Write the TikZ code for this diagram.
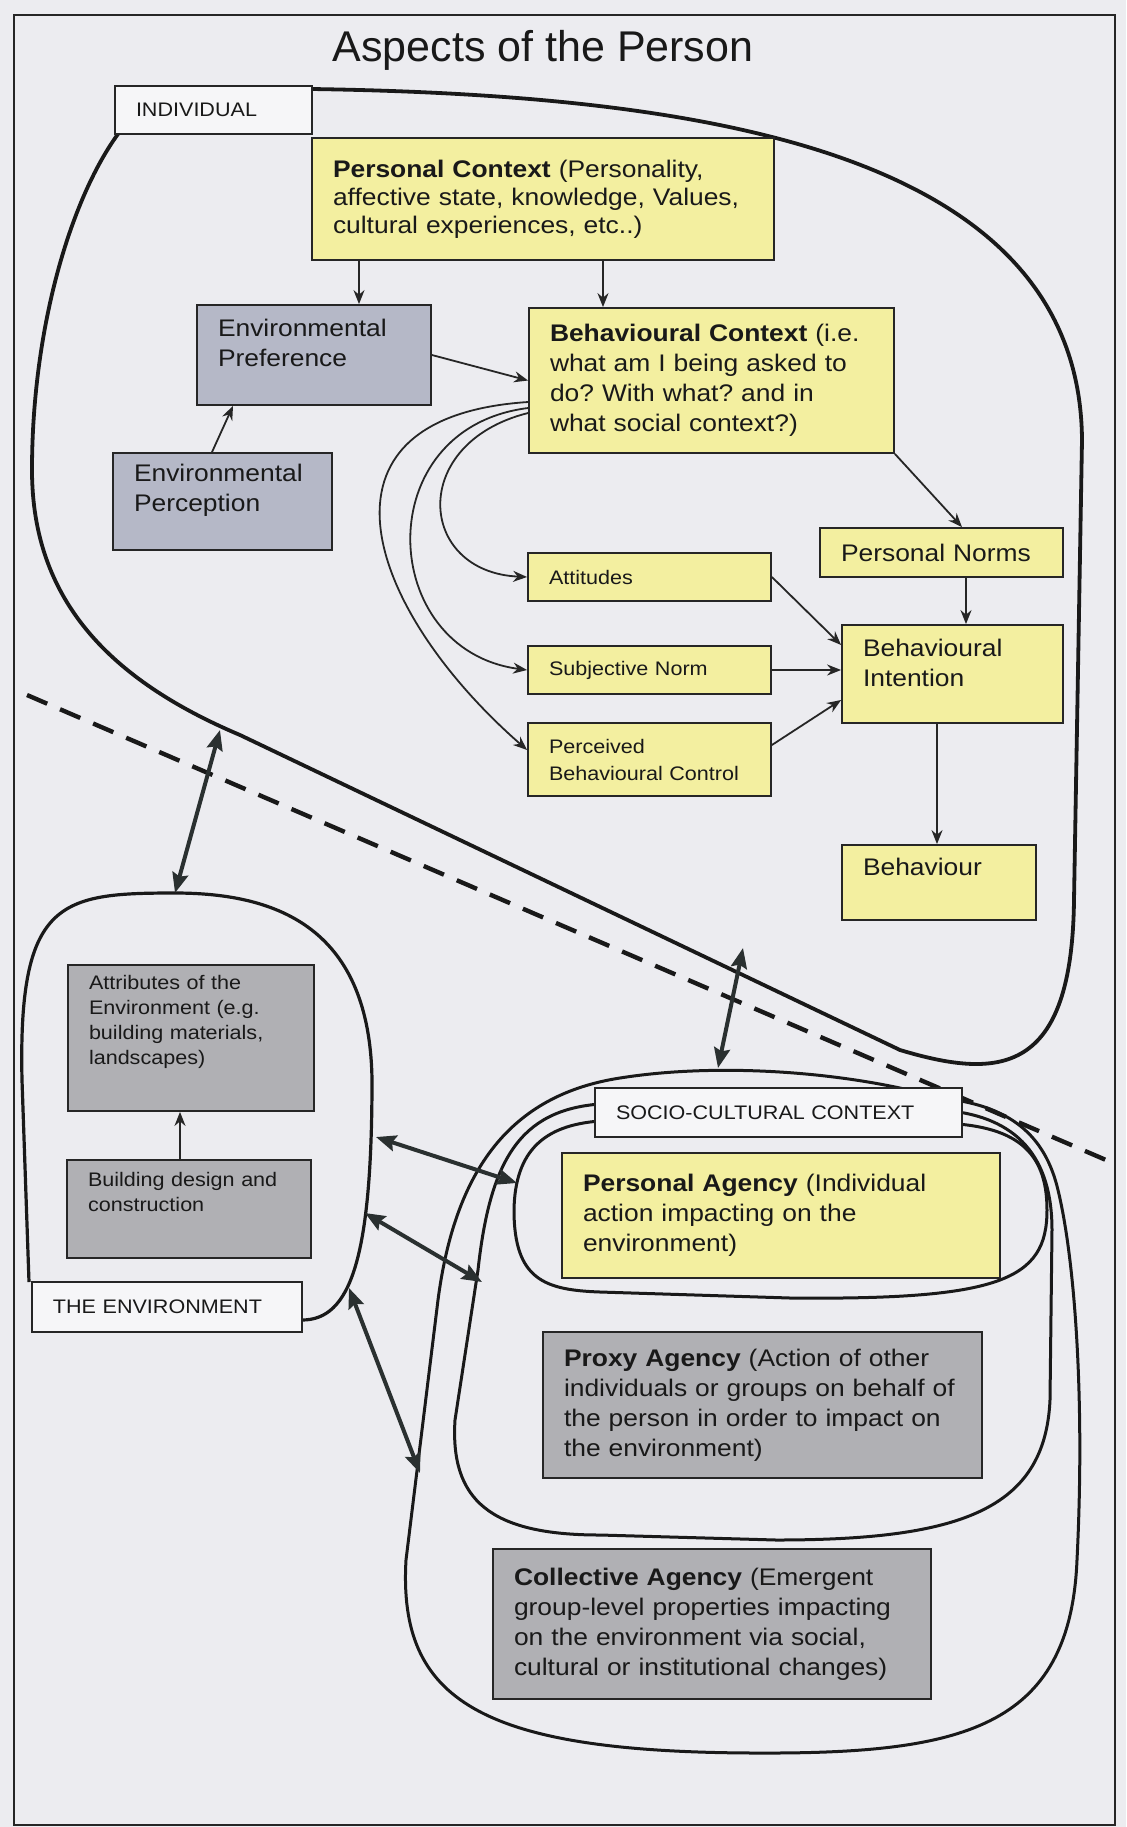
\documentclass[tikz,border=0pt]{standalone}
\usepackage{fontspec}
\setmainfont{Liberation Sans}[FakeStretch=1.1]
\newfontfamily\titlefont{Liberation Sans}
\usetikzlibrary{arrows.meta}
\definecolor{pagegrey}{RGB}{236,236,240}
\definecolor{noteyellow}{RGB}{243,239,160}
\definecolor{envblue}{RGB}{181,184,199}
\definecolor{envgrey}{RGB}{176,176,180}
\definecolor{tagwhite}{RGB}{246,246,248}
\definecolor{inkgrey}{RGB}{42,48,48}
\newcommand\boxbig{\fontsize{12}{15}\selectfont}
\newcommand\boxsmall{\fontsize{9.8}{12.5}\selectfont}
\newcommand\padb[1]{\rule[-#1]{0pt}{#1}}
\frenchspacing

\begin{document}
\begin{tikzpicture}[x=0.5pt, y=-0.5pt,
  cbox/.style={
    rectangle, draw=black!85, line width=0.9pt,
    inner xsep=10.5pt, inner ysep=3pt, align=left, text=black!90
  },
  yellowbox/.style={cbox, fill=noteyellow, font=\boxbig},
  bluebox/.style={cbox, fill=envblue, font=\boxbig},
  greybox/.style={cbox, fill=envgrey, font=\boxsmall},
  tagbox/.style={cbox, fill=tagwhite, font=\boxsmall},
  smallbox/.style={yellowbox, font=\boxsmall, text width=100.5pt},
  arr/.style={-{Stealth[length=7pt,width=5.5pt]}, line width=0.9pt, draw=black!85},
  dbl/.style={{Stealth[length=10pt,width=8pt,inset=1.5pt]}-{Stealth[length=10pt,width=8pt,inset=1.5pt]},
    line width=2pt, draw=inkgrey},
  blob/.style={line width=1.9pt, draw=black!90},
  ring/.style={line width=1.5pt, draw=black!90}
]
  \useasboundingbox (0,0) rectangle (1126,1827);
  \fill[pagegrey] (0,0) rectangle (1126,1827);
  \draw[line width=1pt, black!85] (14,15) rectangle (1115,1825);

  % outlines
  \draw[blob] (312,89) .. controls (700,95) and (1080,150) .. (1082,440)
    -- (1074,900) .. controls (1072,1075) and (1000,1080) .. (900,1050)
    -- (240,735) .. controls (110,680) and (32,600) .. (32,470)
    .. controls (32,330) and (70,200) .. (118,134);
  \draw[blob, line width=1.6pt] (29,1282) -- (22,1080)
    .. controls (18,900) and (60,893) .. (175,893)
    .. controls (280,893) and (370,930) .. (372,1080)
    .. controls (372,1260) and (350,1320) .. (302,1320);
  \draw[ring] (940,1098) .. controls (850,1072) and (720,1062) .. (620,1078)
    .. controls (510,1095) and (455,1170) .. (438,1300) -- (406,1560)
    .. controls (398,1700) and (480,1752) .. (754,1753)
    .. controls (960,1754) and (1070,1730) .. (1077,1560)
    .. controls (1085,1400) and (1075,1260) .. (1058,1190)
    .. controls (1045,1135) and (1010,1105) .. (940,1098) -- cycle;
  \draw[ring] (940,1110) -- (600,1104) .. controls (520,1110) and (490,1160) .. (478,1270)
    -- (455,1420) .. controls (450,1500) and (490,1535) .. (600,1535)
    -- (776,1540) .. controls (960,1540) and (1045,1510) .. (1050,1400)
    -- (1052,1230) .. controls (1052,1160) and (1020,1115) .. (940,1110) -- cycle;
  \draw[ring] (940,1123) -- (600,1121) .. controls (545,1125) and (515,1150) .. (514,1210)
    .. controls (514,1280) and (545,1290) .. (600,1292)
    -- (790,1298) .. controls (1000,1300) and (1047,1280) .. (1047,1210)
    .. controls (1047,1150) and (1015,1125) .. (940,1123) -- cycle;
  \draw[line width=2.2pt, black!90, dash pattern=on 11pt off 7pt] (27,695) -- (1106,1160);

  % boxes
  \node[font=\titlefont\fontsize{21.5}{24}\selectfont, text=black!90] (title) at (543,50) {Aspects of the Person};
  \node[tagbox, text width=77.5pt, minimum height=24pt] (individual) at (213.5,110) {INDIVIDUAL};
  \node[yellowbox, text width=210pt, minimum height=61pt, font=\fontsize{12}{14}\selectfont] (perscontext) at (543,199)
    {\textbf{Personal Context} (Personality,\\affective state, knowledge, Values,\\cultural experiences, etc..)};
  \node[bluebox, text width=96pt, minimum height=50pt] (envpref) at (314,355) {Environmental\\Preference\padb{12pt}};
  \node[yellowbox, text width=161.5pt, minimum height=72.5pt] (behcontext) at (711.5,380.5)
    {\textbf{Behavioural Context} (i.e.\\what am I being asked to\\do? With what? and in\\what social context?)};
  \node[bluebox, text width=88.5pt, minimum height=48.5pt] (envperc) at (222.5,501.5) {Environmental\\Perception\padb{13.5pt}};
  \node[smallbox, minimum height=24pt] (attitudes) at (649.5,577) {Attitudes};
  \node[smallbox, minimum height=24pt] (subjnorm) at (649.5,670) {Subjective Norm};
  \node[smallbox, minimum height=36.5pt, font=\fontsize{9.8}{13.5}\selectfont] (pbc) at (649.5,759.5) {Perceived\\Behavioural Control};
  \node[yellowbox, text width=100.5pt, minimum height=24.5pt] (persnorms) at (941.5,552.5) {Personal Norms};
  \node[yellowbox, text width=89.5pt, minimum height=49pt] (intention) at (952.5,674) {Behavioural\\Intention\padb{11pt}};
  \node[yellowbox, text width=76pt, minimum height=37.5pt] (behaviour) at (939,882.5) {Behaviour\padb{16pt}};
  \node[greybox, text width=102pt, minimum height=73pt] (attributes) at (191,1038)
    {Attributes of the\\Environment (e.g.\\building materials,\\landscapes)\padb{18.5pt}};
  \node[greybox, text width=101pt, minimum height=49pt] (building) at (189,1209) {Building design and\\construction\padb{17pt}};
  \node[tagbox, text width=114pt, minimum height=25pt] (theenv) at (167,1307) {THE ENVIRONMENT};
  \node[tagbox, text width=162.5pt, minimum height=24.5pt] (socio) at (778.5,1112.5) {SOCIO-CULTURAL CONTEXT};
  \node[yellowbox, text width=198pt, minimum height=62.5pt] (persagency) at (781,1215.5)
    {\textbf{Personal Agency} (Individual\\action impacting on the\\environment)};
  \node[greybox, font=\boxbig, text width=198.5pt, minimum height=73pt] (proxy) at (762.5,1405)
    {\textbf{Proxy Agency} (Action of other\\individuals or groups on behalf of\\the person in order to impact on\\the environment)};
  \node[greybox, font=\boxbig, text width=198pt, minimum height=75pt] (collective) at (712,1624)
    {\textbf{Collective Agency} (Emergent\\group-level properties impacting\\on the environment via social,\\cultural or institutional changes)};

  % arrows inside the individual
  \draw[arr] ([xshift=22.5pt]envpref.north |- perscontext.south) -- ([xshift=22.5pt]envpref.north);
  \draw[arr] ([xshift=-54.25pt]behcontext.north |- perscontext.south) -- ([xshift=-54.25pt]behcontext.north);
  \draw[arr] ([xshift=-5.25pt]envperc.north) -- ([xshift=-40.5pt]envpref.south);
  \draw[arr] (envpref.east) -- (behcontext.west);
  \draw[arr] (behcontext.south east) -- ([xshift=10.25pt]persnorms.north);
  \draw[arr] ([xshift=12.25pt]persnorms.south) -- ([xshift=12.25pt]persnorms.south |- intention.north);
  \draw[arr] (attitudes.east) -- ([yshift=14.5pt]intention.west);
  \draw[arr] (subjnorm.east) -- (subjnorm.east -| intention.west);
  \draw[arr] ([yshift=7.25pt]pbc.east) -- ([yshift=-13pt]intention.west);
  \draw[arr] ([xshift=-7.75pt]intention.south) -- ([xshift=-7.75pt]intention.south |- behaviour.north);
  \draw[arr] ([yshift=-16.25pt]behcontext.west) .. controls +(-120,30) and +(-110,-5) .. (attitudes.west);
  \draw[arr] ([yshift=-13.75pt]behcontext.west) .. controls +(-160,20) and +(-150,-20) .. (subjnorm.west);
  \draw[arr] ([yshift=-10.75pt]behcontext.west) .. controls +(-230,15) and +(-160,-140) .. ([yshift=4.75pt]pbc.west);
  \draw[arr] (building.north -| 180,0) -- (attributes.south -| 180,0);

  % links between the spheres
  \coordinate (indleft) at (220,730);
  \coordinate (envtop) at (175,893);
  \coordinate (envright1) at (376,1137);
  \coordinate (innerleft) at (517,1183);
  \coordinate (envright2) at (365,1213);
  \coordinate (middleleft) at (482,1282);
  \coordinate (envright3) at (349,1288);
  \coordinate (outerleft) at (420,1473);
  \coordinate (indbottom) at (743,948);
  \coordinate (outertop) at (718,1068);
  \draw[dbl] (indleft) -- (envtop);
  \draw[dbl] (envright1) -- (innerleft);
  \draw[dbl] (envright2) -- (middleleft);
  \draw[dbl] (envright3) -- (outerleft);
  \draw[dbl] (indbottom) -- (outertop);
\end{tikzpicture}
\end{document}
